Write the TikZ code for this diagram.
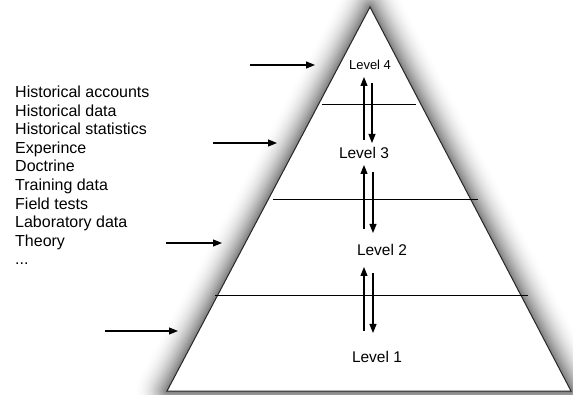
\documentclass[tikz,border=0pt]{standalone}
\usepackage{fontspec}
\setmainfont{Liberation Sans}
\usetikzlibrary{arrows.meta}
\begin{document}
\begin{tikzpicture}[x=1pt,y=-1pt,
  edge/.style={line width=1pt,draw=black!85},
  divider/.style={line width=0.9pt,draw=black},
  flow/.style={line width=1.1pt,-{Triangle[length=9pt,width=7pt]}},
  src/.style={font=\fontsize{16}{18}\selectfont,anchor=base west,inner sep=0pt},
  lvl/.style={font=\fontsize{15.5}{18}\selectfont,inner sep=0pt}]
\useasboundingbox (0,0) rectangle (573,395);
% triangle corners
\coordinate (apex) at (370,7);
\coordinate (bl) at (167,391);
\coordinate (br) at (571,391);
% glow shadow (opaque graded strokes, widest and lightest first)
\begin{scope}
\clip (0,0) rectangle (573,395);
\foreach \w in {64,62,...,2}{
  \pgfmathsetmacro{\dk}{52*(1-\w/66)^2}
  \draw[line width=\w pt,draw=black!\dk,line join=round] (apex) -- (bl) -- (br) -- cycle;
}
\end{scope}
\fill[white] (apex) -- (bl) -- (br) -- cycle;
\draw[edge,line join=miter] (apex) -- (bl) -- (br) -- cycle;
% dividers
\coordinate (d1a) at (322,104); \coordinate (d1b) at (416,104);
\coordinate (d2a) at (273,199); \coordinate (d2b) at (478,199);
\coordinate (d3a) at (215,295); \coordinate (d3b) at (528,295);
\draw[divider] (d1a) -- (d1b);
\draw[divider] (d2a) -- (d2b);
\draw[divider] (d3a) -- (d3b);
% level labels
\node[lvl,font=\fontsize{13}{15}\selectfont] (lv4) at (370,65) {Level 4};
\node[lvl] (lv3) at (364,153) {Level 3};
\node[lvl] (lv2) at (382,250) {Level 2};
\node[lvl] (lv1) at (377,357) {Level 1};
% vertical arrows
\coordinate (u1s) at (364,140); \coordinate (u1e) at (364,77);
\coordinate (d1s) at (372,83);  \coordinate (d1e) at (372,143);
\coordinate (u2s) at (364,229); \coordinate (u2e) at (364,165);
\coordinate (d2s) at (373,172); \coordinate (d2e) at (373,233);
\coordinate (u3s) at (364,331); \coordinate (u3e) at (364,267);
\coordinate (d3s) at (373,273); \coordinate (d3e) at (373,333);
\draw[flow] (u1s) -- (u1e);
\draw[flow] (d1s) -- (d1e);
\draw[flow] (u2s) -- (u2e);
\draw[flow] (d2s) -- (d2e);
\draw[flow] (u3s) -- (u3e);
\draw[flow] (d3s) -- (d3e);
% left arrows
\coordinate (a1s) at (250,65);  \coordinate (a1e) at (315,65);
\coordinate (a2s) at (213,143); \coordinate (a2e) at (277,143);
\coordinate (a3s) at (166,243); \coordinate (a3e) at (222,243);
\coordinate (a4s) at (105,331); \coordinate (a4e) at (178,331);
\draw[flow] (a1s) -- (a1e);
\draw[flow] (a2s) -- (a2e);
\draw[flow] (a3s) -- (a3e);
\draw[flow] (a4s) -- (a4e);
% source list
\node[src] (s1) at (15,98) {Historical accounts};
\node[src] (s2) at (15,117) {Historical data};
\node[src] (s3) at (15,135) {Historical statistics};
\node[src] (s4) at (15,153.5) {Experince};
\node[src] (s5) at (15,172) {Doctrine};
\node[src] (s6) at (15,191) {Training data};
\node[src] (s7) at (15,209.5) {Field tests};
\node[src] (s8) at (15,228) {Laboratory data};
\node[src] (s9) at (15,247) {Theory};
\node[src] (s10) at (15,265) {...};
\end{tikzpicture}
\end{document}
